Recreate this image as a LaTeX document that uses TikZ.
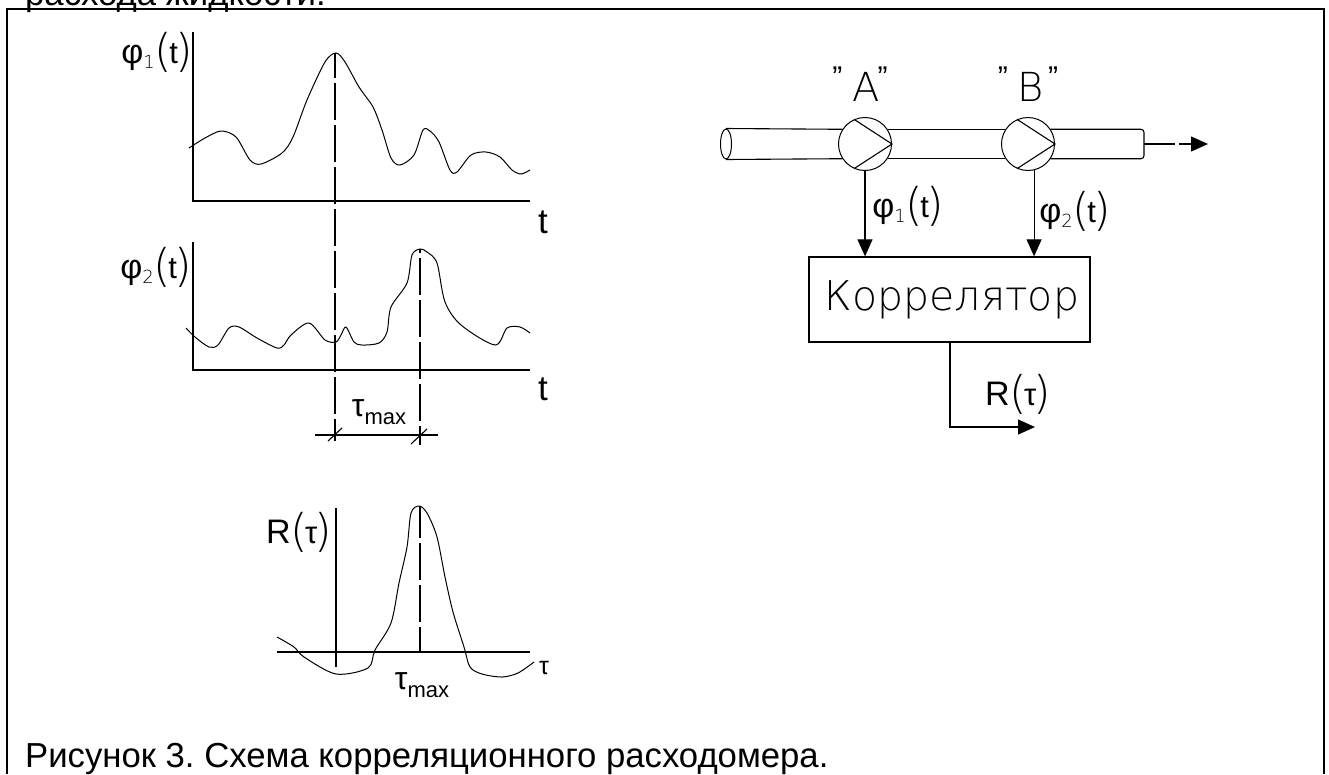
\documentclass[tikz,border=0pt]{standalone}
\usepackage{fontspec}
\setmainfont{Liberation Sans}
\newfontfamily\thinfont{DejaVu Sans ExtraLight}
\usetikzlibrary{arrows.meta,shapes.geometric}
\frenchspacing

\newlength{\du}
\setlength{\du}{1\unitlength}

\newcommand{\fs}[1]{\fontsize{#1}{#1}\selectfont}
\newcommand{\funcarg}[1]{\raisebox{-3pt}{\thinfont\fs{45}(}\kern-3pt{\fs{31}#1}\kern-3pt\raisebox{-3pt}{\thinfont\fs{45})}}
\newcommand{\philabel}[1]{{\fs{34}φ}\raisebox{-5pt}{\fs{18}\thinfont #1}\funcarg{t}}
\newcommand{\rlabel}{{\fs{34}R}\funcarg{τ}}
\newcommand{\taumax}{{\fs{32}τ}\raisebox{-8pt}{\fs{22}max}}
\newcommand{\quoted}[2]{\raisebox{14pt}{\rmfamily\fs{30}”}\kern10pt #1\kern#2\raisebox{14pt}{\rmfamily\fs{30}”}}

\tikzset{
  sheetline/.style={line width=2.6\du},
  axisline/.style={line width=1.3\du},
  curveline/.style={line width=1\du},
  dashline/.style={line width=1.2\du,dash pattern=on 37\du off 5\du},
  wireline/.style={line width=1.1\du},
  bigtip/.style={-{Triangle[length=17pt,width=15pt]}},
  pumpnode/.style={draw,circle,line width=1\du,minimum size=53\du,inner sep=0pt},
  inletnode/.style={draw,ellipse,line width=1\du,minimum width=11\du,minimum height=30\du,inner sep=0pt},
  corrnode/.style={draw,rectangle,line width=1.3\du,minimum width=281\du,minimum height=85\du,inner sep=0pt},
  textnode/.style={inner sep=0pt,text=black},
}

\begin{document}
\begin{tikzpicture}
\pgftransformxscale{1.000000}
\pgftransformyscale{-1.000000}
\useasboundingbox (0\du,0\du) rectangle (1329\du,774\du);
\fill[white] (0\du,0\du) rectangle (1329\du,774\du);

% page around the figure
\draw[sheetline] (7\du,774\du)--(7\du,9\du)--(1324\du,9\du)--(1324\du,774\du);
\node[textnode,anchor=base west] (prevline) at (25\du,5\du){\fs{34.7}расхода жидкости.};
\node[textnode,anchor=base west] (caption) at (25\du,767\du){\fs{34.7}Рисунок 3. Схема корреляционного расходомера.};

% upper plot
\draw[axisline] (193\du,32\du)--(193\du,201\du)--(530\du,201\du);
\draw[curveline] plot[smooth,tension=0.5] coordinates {(189\du,148\du)(205\du,138\du)(221\du,131\du)(236\du,137\du)(250\du,160\du)(261\du,164\du)(282\du,153\du)(293\du,137\du)(307\du,100\du)(325\du,62\du)(336\du,53\du)(345\du,62\du)(359\du,87\du)(373\du,107\du)(382\du,130\du)(391\du,158\du)(400\du,165\du)(414\du,155\du)(423\du,130\du)(430\du,131\du)(439\du,142\du)(450\du,170\du)(457\du,172\du)(471\du,155\du)(486\du,152\du)(500\du,157\du)(512\du,170\du)(521\du,174\du)(530\du,170\du)};
\node[textnode] (phione) at (157\du,52\du){\philabel{1}};
\node[textnode] (tone) at (543\du,222\du){\fs{35}t};

% middle plot
\draw[axisline] (193\du,242\du)--(193\du,370\du)--(530\du,370\du);
\draw[curveline] plot[smooth,tension=0.5] coordinates {(186\du,328\du)(195\du,337\du)(209\du,347\du)(218\du,345\du)(229\du,328\du)(239\du,327\du)(257\du,338\du)(277\du,348\du)(284\du,345\du)(291\du,335\du)(309\du,323\du)(325\du,340\du)(336\du,342\du)(341\du,335\du)(346\du,327\du)(354\du,342\du)(362\du,345\du)(379\du,343\du)(387\du,332\du)(391\du,307\du)(407\du,283\du)(412\du,255\du)(420\du,249\du)(427\du,252\du)(437\du,263\du)(445\du,302\du)(461\du,325\du)(495\du,345\du)(507\du,328\du)(520\du,327\du)(530\du,333\du)};
\node[textnode] (phitwo) at (156\du,267\du){\philabel{2}};
\node[textnode] (ttwo) at (543\du,389\du){\fs{35}t};

% delay between the two peaks
\draw[dashline,dash phase=12\du] (335\du,53\du)--(335\du,441\du);
\draw[dashline,dash phase=33\du] (420\du,249\du)--(420\du,445\du);
\draw[axisline] (315\du,435\du)--(438\du,435\du);
\draw[wireline] (328\du,441\du)--(342\du,428\du);
\draw[wireline] (411\du,444\du)--(427\du,429\du);
\node[textnode] (taudelay) at (379\du,412\du){\taumax};

% lower plot
\draw[axisline] (336\du,508\du)--(336\du,667\du);
\draw[axisline] (277\du,652\du)--(530\du,652\du);
\draw[curveline] plot[smooth,tension=0.5] coordinates {(277\du,637\du)(294\du,647\du)(304\du,657\du)(336\du,674\du)(368\du,668\du)(375\du,650\du)(391\du,623\du)(399\du,583\du)(407\du,547\du)(411\du,513\du)(419\du,506\du)(427\du,513\du)(437\du,537\du)(445\du,577\du)(453\du,612\du)(464\du,647\du)(470\du,667\du)(482\du,674\du)(502\du,677\du)(518\du,673\du)(534\du,662\du)};
\draw[dashline,dash phase=5\du] (420\du,506\du)--(420\du,652\du);
\node[textnode] (rplot) at (299\du,532\du){\rlabel};
\node[textnode] (taupeak) at (422\du,685\du){\taumax};
\node[textnode] (tauaxis) at (544\du,668\du){\fs{25}τ};

% pipe with the two sensors
\node[pumpnode] (pumpA) at (865\du,144\du){};
\node[pumpnode] (pumpB) at (1028\du,144\du){};
\node[inletnode] (inlet) at (726\du,144\du){};
\coordinate (pipeend) at (1144\du,144\du);
\coordinate (flowgap) at (1175\du,144\du);
\coordinate (flowstart) at (1179\du,144\du);
\coordinate (flowend) at (1208\du,144\du);
\draw[wireline] (inlet.north)--(pumpA.147);
\draw[wireline] (inlet.south)--(pumpA.213);
\draw[wireline] (pumpA.33)--(pumpB.147);
\draw[wireline] (pumpA.-33)--(pumpB.213);
\draw[wireline,rounded corners=3\du] (pumpB.33)--(pipeend|-pumpB.33)--(pipeend|-pumpB.-33)--(pumpB.-33);
\draw[wireline] (pumpA.114)--(pumpA.east)--(pumpA.-114);
\draw[wireline] (pumpB.114)--(pumpB.east)--(pumpB.-114);
\draw[wireline] (pipeend)--(flowgap);
\draw[wireline,bigtip] (flowstart)--(flowend);
\node[textnode,anchor=base] (labelA) at (860\du,101\du){\thinfont\fs{40}\quoted{A}{-2pt}};
\node[textnode,anchor=base] (labelB) at (1028\du,101\du){\thinfont\fs{40}\quoted{B}{4pt}};

% correlator
\node[corrnode] (corr) at (949.500000\du,299.500000\du){};
\node[textnode] (corrtext) at (952\du,300\du){\thinfont\fs{41}Коррелятор};
\coordinate (sensorB) at (pumpB.-77);
\coordinate (outbend) at (950\du,427\du);
\coordinate (outend) at (1035\du,427\du);
\draw[wireline,bigtip] (pumpA.south)--(corr.north-|pumpA);
\draw[wireline,bigtip] (sensorB)--(corr.north-|sensorB);
\draw[wireline,bigtip] (corr.south-|outbend)--(outbend)--(outend);
\node[textnode] (phiinA) at (908\du,206\du){\philabel{1}};
\node[textnode] (phiinB) at (1075\du,211\du){\philabel{2}};
\node[textnode] (rout) at (1018\du,394\du){\rlabel};
\end{tikzpicture}
\end{document}
